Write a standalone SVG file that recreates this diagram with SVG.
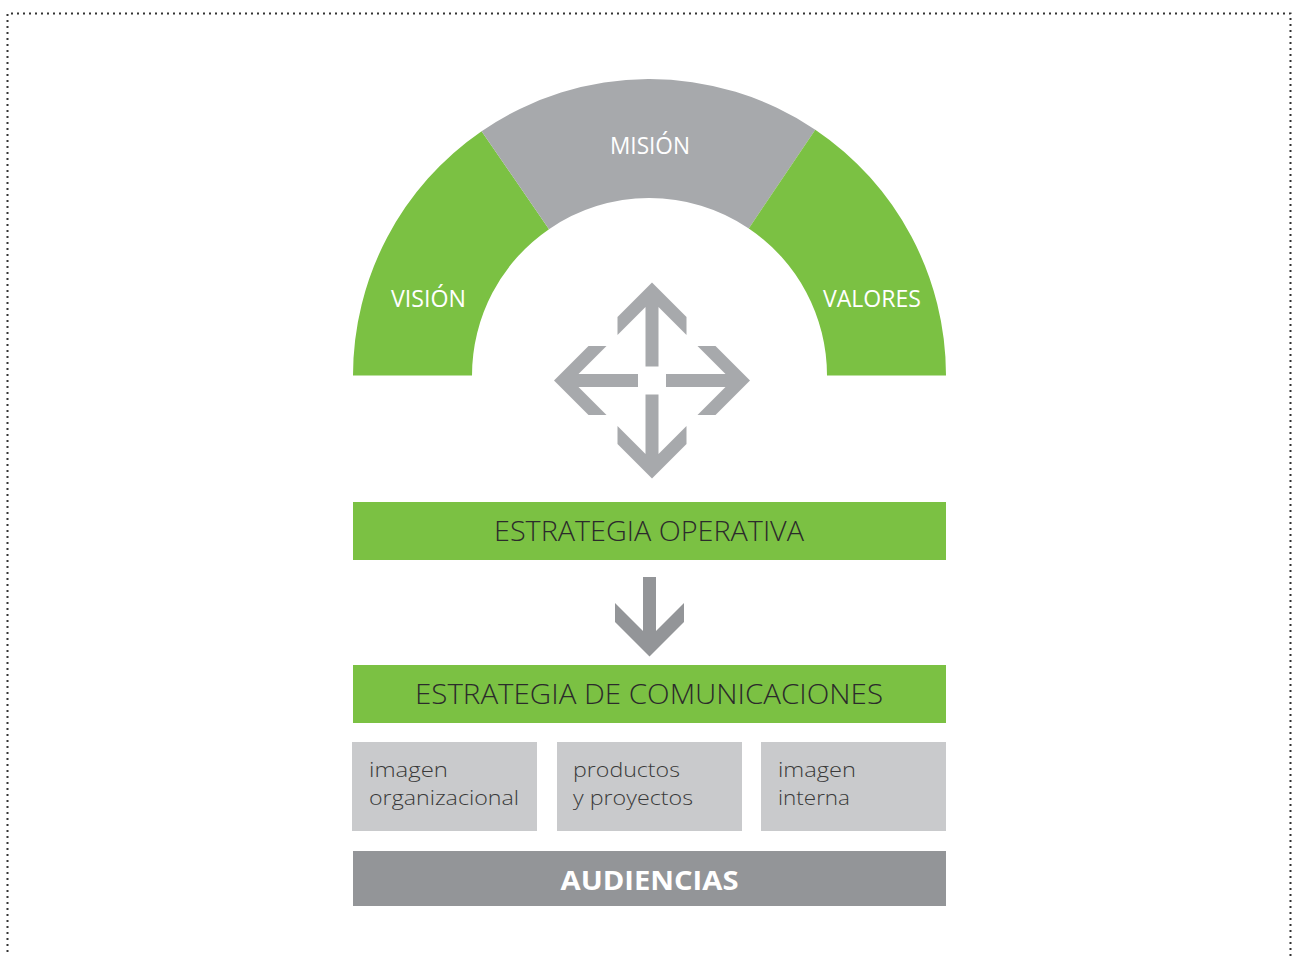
<svg xmlns="http://www.w3.org/2000/svg" width="1293" height="956" viewBox="0 0 1293 956">
<style>
.green{fill:#7BC143}
.arch{fill:#A7A9AC}
.light{fill:#C9CACC}
.dark{fill:#939598}
.lbl{font-family:"Open Sans","Liberation Sans",sans-serif;fill:#ffffff;font-size:23px;font-weight:400}
.band{font-family:"Open Sans","Liberation Sans",sans-serif;fill:#2b2b2b;font-size:28px;font-weight:300}
.small{font-family:"Open Sans","Liberation Sans",sans-serif;fill:#3a3a3a;font-size:20.5px;font-weight:300}
.aud{font-family:"Open Sans","Liberation Sans",sans-serif;fill:#ffffff;font-size:27px;font-weight:700}
</style>
<defs>
<path id="arr" d="M0,-98 L34.5,-63.5 L34.5,-45.5 L6.5,-73.5 L6.5,-14 L-6.5,-14 L-6.5,-73.5 L-34.5,-45.5 L-34.5,-63.5 Z"/>
</defs>
<rect width="1293" height="956" fill="#ffffff"/>
<path d="M7.5,970 L7.5,13.5 L1290.5,13.5 L1290.5,970" fill="none" stroke="#333" stroke-width="2" stroke-dasharray="2 4"/>

<g id="vision">
<path class="green" d="M353,375.5 A296.5,296.5 0 0 1 481.6,131.2 L549,229.2 A177.5,177.5 0 0 0 472,375.5 Z"/>
<text class="lbl" x="428.5" y="307" text-anchor="middle" textLength="75" lengthAdjust="spacingAndGlyphs">VISIÓN</text>
</g>
<g id="mision">
<path class="arch" d="M481.6,131.2 A296.5,296.5 0 0 1 815.3,129.7 L748.8,228.4 A177.5,177.5 0 0 0 549,229.2 Z"/>
<text class="lbl" x="650" y="154" text-anchor="middle" textLength="80" lengthAdjust="spacingAndGlyphs">MISIÓN</text>
</g>
<g id="valores">
<path class="green" d="M815.3,129.7 A296.5,296.5 0 0 1 946,375.5 L827,375.5 A177.5,177.5 0 0 0 748.8,228.4 Z"/>
<text class="lbl" x="872" y="307" text-anchor="middle" textLength="98" lengthAdjust="spacingAndGlyphs">VALORES</text>
</g>

<g id="connectors">
<g fill="#A7A9AC" transform="translate(652,380.5)">
<use href="#arr"/>
<use href="#arr" transform="rotate(90)"/>
<use href="#arr" transform="rotate(180)"/>
<use href="#arr" transform="rotate(270)"/>
</g>
<path class="dark" d="M643,577 L656,577 L656,631 L684,603 L684,622 L649.5,656.5 L615,622 L615,603 L643,631 Z"/>
</g>

<g id="estrategia-operativa">
<rect class="green" x="353" y="502" width="593" height="58"/>
<text class="band" x="649" y="541" text-anchor="middle" textLength="310" lengthAdjust="spacingAndGlyphs">ESTRATEGIA OPERATIVA</text>
</g>
<g id="estrategia-comunicaciones">
<rect class="green" x="353" y="665" width="593" height="58"/>
<text class="band" x="649" y="704" text-anchor="middle" textLength="468" lengthAdjust="spacingAndGlyphs">ESTRATEGIA DE COMUNICACIONES</text>
</g>
<g id="imagen-organizacional">
<rect class="light" x="352" y="742" width="185" height="89"/>
<text class="small" x="369" y="777" textLength="79" lengthAdjust="spacingAndGlyphs">imagen</text>
<text class="small" x="369" y="805" textLength="150" lengthAdjust="spacingAndGlyphs">organizacional</text>
</g>
<g id="productos">
<rect class="light" x="557" y="742" width="185" height="89"/>
<text class="small" x="573" y="777" textLength="107" lengthAdjust="spacingAndGlyphs">productos</text>
<text class="small" x="573" y="805" textLength="120" lengthAdjust="spacingAndGlyphs">y proyectos</text>
</g>
<g id="imagen-interna">
<rect class="light" x="761" y="742" width="185" height="89"/>
<text class="small" x="778" y="777" textLength="78" lengthAdjust="spacingAndGlyphs">imagen</text>
<text class="small" x="778" y="805" textLength="72" lengthAdjust="spacingAndGlyphs">interna</text>
</g>
<g id="audiencias">
<rect class="dark" x="353" y="851" width="593" height="55"/>
<text class="aud" x="649.5" y="890" text-anchor="middle" textLength="178" lengthAdjust="spacingAndGlyphs">AUDIENCIAS</text>
</g>
</svg>
